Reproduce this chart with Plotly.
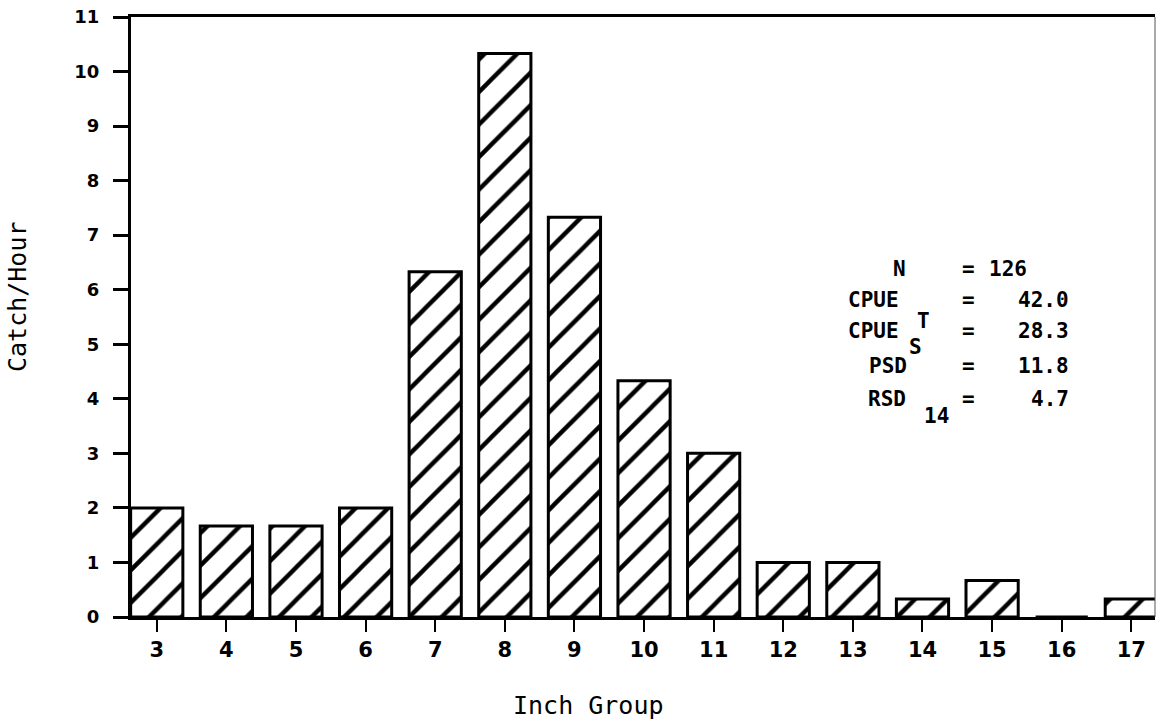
import plotly.graph_objects as go

# Catch per hour by one-inch length group
inch_groups = [3, 4, 5, 6, 7, 8, 9, 10, 11, 12, 13, 14, 15, 16, 17]
catch_per_hour = [2.0, 1.67, 1.67, 2.0, 6.33, 10.33, 7.33, 4.33, 3.0, 1.0, 1.0, 0.33, 0.67, 0.0, 0.33]
y_ticks = list(range(0, 12))

# Summary statistics block
stat_labels = ["N", "CPUE", "CPUE", "PSD", "RSD"]
stat_subs = ["", "T", "S", "", "14"]
stat_values = ["126", "42.0", "28.3", "11.8", "4.7"]

W, H = 1156, 728
L, R, T, B = 131, 1, 17, 111
X_RANGE = [2.63, 17.34]
Y_RANGE = [0, 11]

fig = go.Figure()
fig.add_trace(go.Bar(
    x=inch_groups,
    y=catch_per_hour,
    width=0.75,
    marker=dict(
        color="white",
        line=dict(color="black", width=3),
        pattern=dict(shape="/", fgcolor="black", bgcolor="white", fgopacity=1,
                     size=23, solidity=0.19),
    ),
    showlegend=False,
))


def px_x(p):
    """Horizontal pixel -> paper coordinate."""
    return (p - L) / (W - L - R)


def px_y(p):
    """Vertical pixel -> paper coordinate."""
    return 1 - (p - T) / (H - T - B)


stat_font = dict(family="DejaVu Sans Mono", size=21, color="black")
row_y = [269, 300, 331, 366, 399]
sub_y = [None, 321, 347, None, 416]
label_right = [908, 901, 901, 909, 908]
sub_x = [None, 923, 915, None, 936]
value_right = 1071

annotations = []
for lab, sub, val, ry, sy, lr, sx in zip(stat_labels, stat_subs, stat_values,
                                        row_y, sub_y, label_right, sub_x):
    annotations.append(dict(text="<b>%s</b>" % lab, x=px_x(lr), y=px_y(ry), xref="paper", yref="paper",
                            xanchor="right", yanchor="middle", showarrow=False, font=stat_font))
    if sub:
        annotations.append(dict(text="<b>%s</b>" % sub, x=px_x(sx), y=px_y(sy), xref="paper", yref="paper",
                                xanchor="center", yanchor="middle", showarrow=False, font=stat_font))
    annotations.append(dict(text="<b>=</b>", x=px_x(968), y=px_y(ry), xref="paper", yref="paper",
                            xanchor="center", yanchor="middle", showarrow=False, font=stat_font))
    if val == "126":
        annotations.append(dict(text="<b>%s</b>" % val, x=px_x(987), y=px_y(ry), xref="paper", yref="paper",
                                xanchor="left", yanchor="middle", showarrow=False, font=stat_font))
    else:
        annotations.append(dict(text="<b>%s</b>" % val, x=px_x(value_right), y=px_y(ry), xref="paper",
                                yref="paper", xanchor="right", yanchor="middle", showarrow=False, font=stat_font))

title_font = dict(family="DejaVu Sans Mono", size=25, color="black")
annotations.append(dict(text="Inch Group", x=px_x(588), y=px_y(705), xref="paper", yref="paper",
                        xanchor="center", yanchor="middle", showarrow=False, font=title_font))
annotations.append(dict(text="Catch/Hour", x=px_x(17), y=px_y(297), xref="paper", yref="paper",
                        xanchor="center", yanchor="middle", showarrow=False, textangle=-90, font=title_font))

fig.update_layout(
    width=W, height=H,
    margin=dict(l=L, r=R, t=T, b=B, pad=0),
    paper_bgcolor="white",
    plot_bgcolor="white",
    annotations=annotations,
    shapes=[dict(type="line", xref="paper", yref="paper", x0=1, x1=1, y0=0, y1=1,
                 line=dict(color="#555555", width=1))],
    xaxis=dict(
        range=X_RANGE,
        tickmode="array",
        tickvals=inch_groups,
        ticktext=["<b>%d</b>" % g for g in inch_groups],
        ticks="outside", ticklen=12, tickwidth=2, tickcolor="black",
        showline=True, linecolor="black", linewidth=3, mirror=True,
        showgrid=False, zeroline=False,
        tickfont=dict(family="DejaVu Sans", size=21, color="black"),
        fixedrange=True,
    ),
    yaxis=dict(
        range=Y_RANGE,
        tickmode="array",
        tickvals=y_ticks,
        ticktext=["<b>%d</b>" % v for v in y_ticks],
        ticks="outside", ticklen=15, tickwidth=3, tickcolor="black",
        showline=True, linecolor="black", linewidth=3,
        showgrid=False, zeroline=False,
        tickfont=dict(family="DejaVu Sans", size=18, color="black"),
        ticklabelstandoff=10,
        fixedrange=True,
    ),
)

fig.write_html("out.html")
